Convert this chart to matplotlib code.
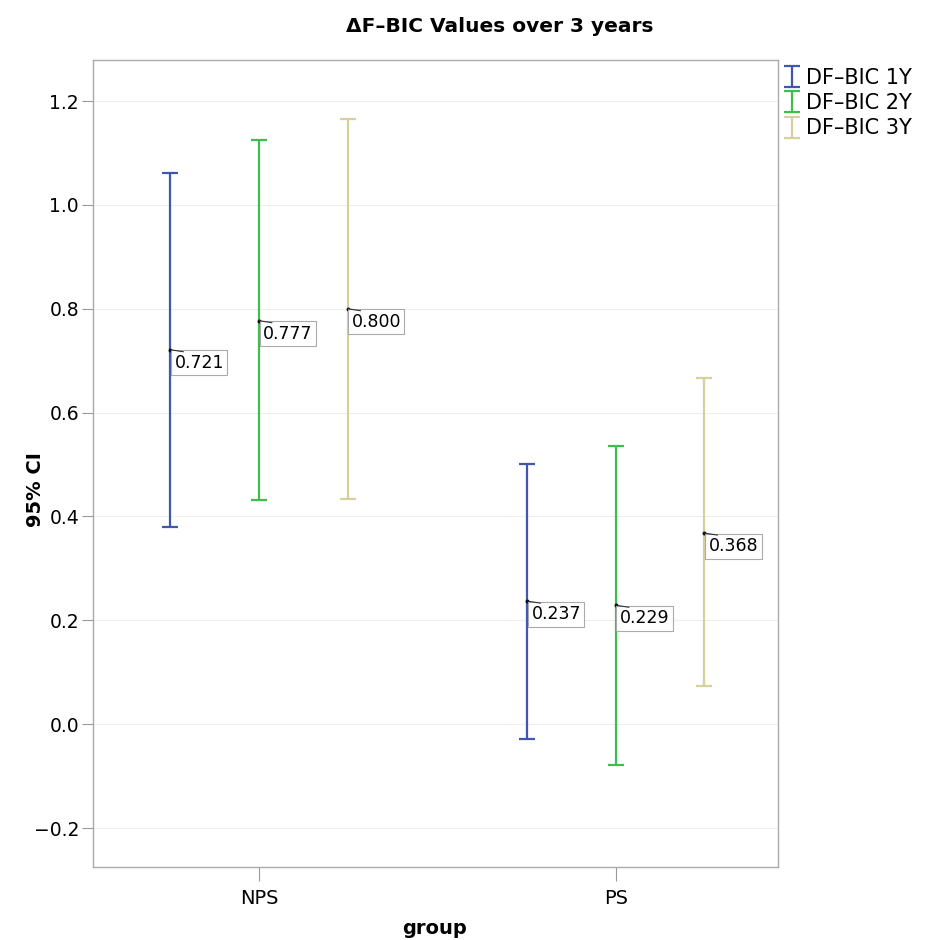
import numpy as np
import matplotlib
matplotlib.use('Agg')
import matplotlib.pyplot as plt

groups = ['NPS', 'PS']
series = ['DF–BIC 1Y', 'DF–BIC 2Y', 'DF–BIC 3Y']
colors = ['#3f57b0', '#3cbf4c', '#d6d09a']
means = [[0.721, 0.237], [0.777, 0.229], [0.800, 0.368]]
upper = [[1.061, 0.501], [1.124, 0.536], [1.166, 0.666]]
lower = [[0.380, -0.028], [0.432, -0.078], [0.434, 0.073]]
yticks = [-0.2, 0.0, 0.2, 0.4, 0.6, 0.8, 1.0, 1.2]

fig = plt.figure(figsize=(9.29, 9.40), dpi=100)
ax = fig.add_axes([93/929, 1-867/940, (778-93)/929, (867-60)/940])

x = np.arange(len(groups))
offs = [-0.248, 0.0, 0.248]
for i in range(3):
    xs = x + offs[i]
    m = np.array(means[i])
    err = [m - np.array(lower[i]), np.array(upper[i]) - m]
    ax.errorbar(xs, m, yerr=err, fmt='none', ecolor=colors[i], elinewidth=1.6,
                capsize=5.5, capthick=1.6, label=series[i], zorder=3)
    ax.plot(xs, m, 'o', color='black', ms=1.8, zorder=4)
    for xv, mv in zip(xs, m):
        # little leader line from the mean to the label
        ax.annotate('', xy=(xv, mv), xytext=(13, -2), textcoords='offset pixels',
                    arrowprops=dict(arrowstyle='-', color='#333333', lw=0.8,
                                    shrinkA=0, shrinkB=0), zorder=5)
        ax.annotate('%.3f' % mv, (xv, mv), xytext=(4, -4), textcoords='offset pixels',
                    ha='left', va='top', fontsize=12.5, zorder=4,
                    bbox=dict(boxstyle='square,pad=0.2', fc='white', ec='#aaaaaa', lw=0.8))

ax.set_xlim(-0.465, 1.454)
ax.set_ylim(-0.275, 1.279)
ax.set_xticks(x)
ax.set_xticklabels(groups, fontsize=14)
ax.set_yticks(yticks)
ax.set_yticklabels([('%.1f' % v).replace('-', '\u2212') for v in yticks], fontsize=13.5)
ax.tick_params(axis='y', length=8, width=0.8, color='#999999', pad=2)
ax.tick_params(axis='x', length=10, width=0.8, color='#999999', pad=6)
ax.grid(axis='y', color='#eeeeee', lw=0.8, zorder=0)
ax.set_axisbelow(True)
for s in ax.spines.values():
    s.set_color('#aaaaaa')
    s.set_linewidth(1)

fig.text(500/929, 1-26/940, 'ΔF–BIC Values over 3 years', ha='center', va='center',
         fontsize=14.5, fontweight='bold')
fig.text(36/929, 1-490/940, '95% CI', rotation=90, ha='center', va='center',
         fontsize=14, fontweight='bold')
fig.text(435/929, 1-928/940, 'group', ha='center', va='center',
         fontsize=14, fontweight='bold')

leg = ax.legend(loc='upper left', bbox_to_anchor=(0.995, 1.006), frameon=False,
                fontsize=15, handlelength=0.45, handleheight=0.6, handletextpad=0.45,
                labelspacing=0.25, borderaxespad=0.2)

fig.savefig('out.png', dpi=100)
